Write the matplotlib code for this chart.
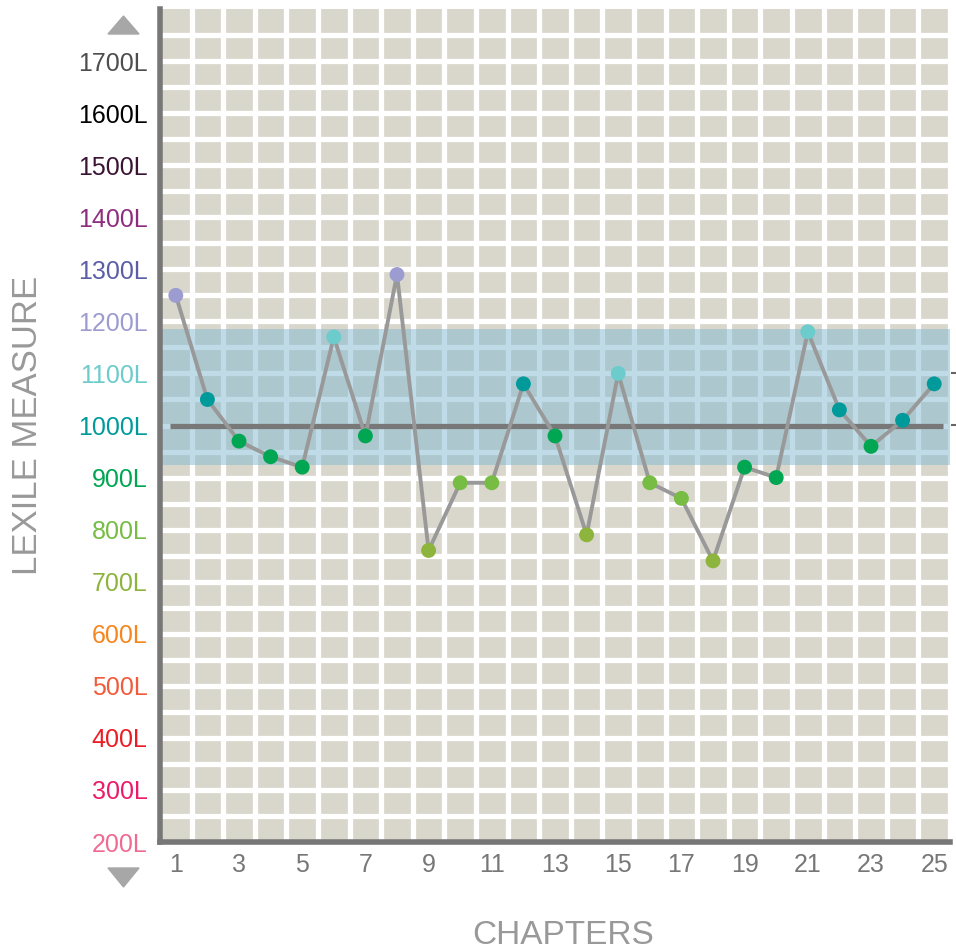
import matplotlib
matplotlib.use('Agg')
import matplotlib.pyplot as plt
from matplotlib.patches import Polygon
from matplotlib.lines import Line2D

plt.rcParams['font.family'] = ['Liberation Sans', 'DejaVu Sans']

# data
chapters = list(range(1, 26))
lexile = [1250, 1050, 970, 940, 920, 1170, 980, 1290, 760, 890,
          890, 1080, 980, 790, 1100, 890, 860, 740, 920, 900,
          1180, 1030, 960, 1010, 1080]
mean_value = 1000
band_low, band_high = 925, 1185

y_ticks = [200, 300, 400, 500, 600, 700, 800, 900, 1000, 1100,
           1200, 1300, 1400, 1500, 1600, 1700]
y_tick_colors = ['#f06a93', '#ec1a6a', '#ed1c24', '#f15a3a', '#f7861f',
                 '#8db43c', '#77bc43', '#00a651', '#009a9a', '#6ccbcb',
                 '#9c9cd0', '#5b5ea6', '#8e2d7f', '#3b1434', '#000000', '#4d4d4d']
x_ticks = list(range(1, 26, 2))


def point_color(v):
    # colour of the 100L band the value falls in
    base = int(v // 100) * 100
    return y_tick_colors[y_ticks.index(base)]


fig = plt.figure(figsize=(9.56, 9.5), dpi=100)
ax = fig.add_axes([160 / 956, 1 - 842 / 950, (950 - 160) / 956, (842 - 9) / 950])
ax.set_xlim(0.5, 25.5)
ax.set_ylim(200, 1800)
ax.set_facecolor('#d9d6cb')

# white grid
for x in range(1, 26):
    ax.axvline(x + 0.5, color='white', lw=3.8, zorder=1)
for y in range(250, 1800, 50):
    ax.axhline(y, color='white', lw=3.8, zorder=1)

# target band
ax.axhspan(band_low, band_high, color='#81b9d1', alpha=0.5, lw=0, zorder=2)

# mean line
ax.plot([0.81, 25.27], [mean_value, mean_value], color='#787878', lw=3.8,
        solid_capstyle='butt', zorder=3)

# series
ax.plot(chapters, lexile, color='#999999', lw=2.8, zorder=4)
ax.scatter(chapters, lexile, s=115, c=[point_color(v) for v in lexile],
           zorder=5, linewidths=0)

for side in ('top', 'right'):
    ax.spines[side].set_visible(False)
for side in ('left', 'bottom'):
    ax.spines[side].set_color('#777777')
    ax.spines[side].set_linewidth(4)

ax.set_yticks(y_ticks)
ax.set_yticklabels([f'{v}L' for v in y_ticks], fontsize=18)
for lbl, c in zip(ax.get_yticklabels(), y_tick_colors):
    lbl.set_color(c)
ax.set_xticks(x_ticks)
ax.set_xticklabels([str(v) for v in x_ticks], fontsize=18, color='#777777')
ax.tick_params(axis='both', length=0)
ax.tick_params(axis='y', pad=9)
ax.tick_params(axis='x', pad=8)

fig.text(28 / 956, 1 - 425 / 950, 'LEXILE MEASURE', rotation=90, fontsize=25,
         color='#999999', ha='center', va='center')
fig.text(563 / 956, 1 - 935 / 950, 'CHAPTERS', fontsize=24, color='#999999',
         ha='center', va='center')

# arrows above/below the y axis
up = [(108 / 956, 1 - 34 / 950), (139 / 956, 1 - 34 / 950), (123.5 / 956, 1 - 16 / 950)]
down = [(108 / 956, 1 - 868 / 950), (139 / 956, 1 - 868 / 950), (123.5 / 956, 1 - 887 / 950)]
for tri in (up, down):
    fig.add_artist(Polygon(tri, closed=True, color='#a7a7a7',
                           transform=fig.transFigure))

# small marks at the right edge
for yy in (373, 425):
    fig.add_artist(Line2D([952 / 956, 956 / 956], [1 - yy / 950, 1 - yy / 950],
                          color='#666666', lw=1.5, transform=fig.transFigure))

fig.savefig('out.png', dpi=100)
